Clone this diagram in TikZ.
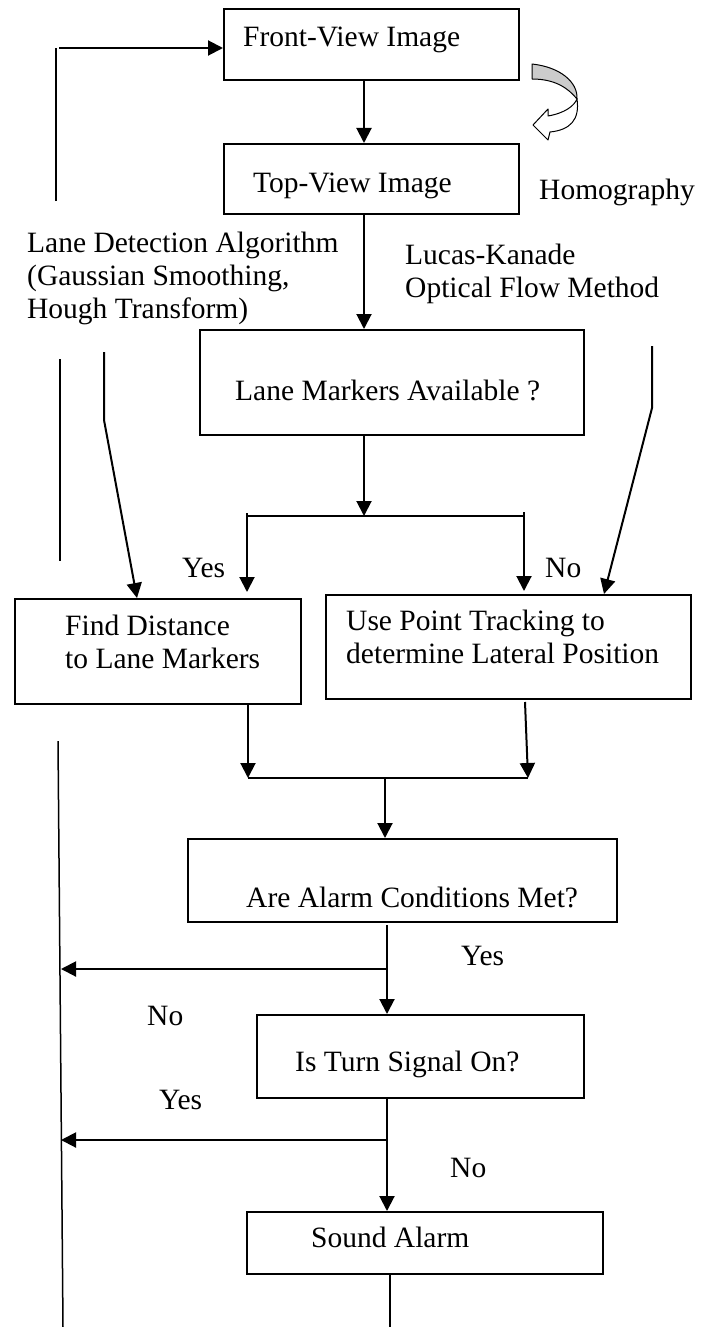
\documentclass[tikz,border=0pt]{standalone}
\usepackage{fontspec}
\setmainfont{Liberation Serif}
\usetikzlibrary{arrows.meta}
\begin{document}
\begin{tikzpicture}[x=1pt,y=-1pt,
  box/.style={draw, line width=2pt, rectangle, inner sep=0pt, anchor=north west},
  lbl/.style={inner sep=0pt, anchor=base west, align=left, font=\fontsize{29.5}{33}\selectfont},
  arr/.style={line width=2pt, -{Triangle[length=15pt,width=15pt]}},
  conn/.style={line width=2pt},
  plain/.style={line width=1.5pt},
  homo/.style={line width=1pt, line join=round}]
\useasboundingbox (0,0) rectangle (706,1327);
% boxes
\node[box, minimum width=295pt, minimum height=71pt] (front) at (223,8) {};
\node[box, minimum width=295pt, minimum height=70pt] (top) at (223,143) {};
\node[box, minimum width=384pt, minimum height=105pt] (lane) at (199,329) {};
\node[box, minimum width=286pt, minimum height=105pt] (find) at (14,598) {};
\node[box, minimum width=365pt, minimum height=104pt] (track) at (325,594) {};
\node[box, minimum width=429pt, minimum height=83pt] (alarm) at (187,838) {};
\node[box, minimum width=327pt, minimum height=83pt] (turn) at (256,1014) {};
\node[box, minimum width=356pt, minimum height=62pt] (sound) at (246,1211) {};
% texts (multi-line nodes are anchored at the baseline of their last line)
\node[lbl] (tfront) at (243,47) {Front-View Image};
\node[lbl] (ttop) at (253,192) {Top-View Image};
\node[lbl] (thomo) at (539,199) {Homography};
\node[lbl] (tld) at (27,318) {Lane Detection Algorithm\\(Gaussian Smoothing,\\Hough Transform)};
\node[lbl] (tlk) at (405,297) {Lucas-Kanade\\Optical Flow Method};
\node[lbl] (tlane) at (235,400) {Lane Markers Available ?};
\node[lbl] (tyes1) at (182,577) {Yes};
\node[lbl] (tno1) at (545,577) {No};
\node[lbl] (tfind) at (65,668) {Find Distance\\to Lane Markers};
\node[lbl] (ttrack) at (346,663) {Use Point Tracking to\\determine Lateral Position};
\node[lbl] (talarm) at (246,907) {Are Alarm Conditions Met?};
\node[lbl] (tyes2) at (461,965) {Yes};
\node[lbl] (tno2) at (147,1025) {No};
\node[lbl] (tturn) at (295,1071) {Is Turn Signal On?};
\node[lbl] (tyes3) at (159,1109) {Yes};
\node[lbl] (tno3) at (450,1177) {No};
\node[lbl] (tsound) at (311,1247) {Sound Alarm};
% coordinates
\coordinate (xa) at (364,0);
\coordinate (fbTop) at (56,48);
\coordinate (fbBot) at (56,201);
\coordinate (fbStart) at (59,48);
\coordinate (ldA) at (104,352);
\coordinate (ldB) at (104,420);
\coordinate (ldC) at (137,598);
\coordinate (lkA) at (652,346);
\coordinate (lkB) at (652,408);
\coordinate (lkC) at (604,594);
\coordinate (l2a) at (60,359);
\coordinate (l2b) at (60,561);
\coordinate (br) at (364,516);
\coordinate (bl) at (247,516);
\coordinate (brr) at (524,516);
\coordinate (blTick) at (247,513);
\coordinate (brrTick) at (524,512);
\coordinate (yesEnd) at (247,592);
\coordinate (noEnd) at (524,591);
\coordinate (mL) at (248,778);
\coordinate (mR) at (528,778);
\coordinate (mS) at (525,702);
\coordinate (mC) at (385,778);
\coordinate (aS) at (387,925);
\coordinate (aB) at (387,969);
\coordinate (aL) at (61,969);
\coordinate (tB) at (387,1140);
\coordinate (tL) at (61,1140);
\coordinate (xt) at (387,0);
\coordinate (xs) at (390,0);
\coordinate (sEnd) at (390,1327);
\coordinate (llTop) at (58,741);
\coordinate (llBot) at (63,1327);
% connectors
\draw[plain] (fbBot) -- (fbTop);
\draw[arr] (fbStart) -- (fbStart -| front.west);
\draw[arr] (front.south -| xa) -- (top.north -| xa);
\draw[arr] (top.south -| xa) -- (lane.north -| xa);
\draw[arr] (lane.south -| xa) -- (br);
\draw[conn] (bl) -- (brr);
\draw[arr] (blTick) -- (yesEnd);
\draw[arr] (brrTick) -- (noEnd);
\draw[arr] (ldA) -- (ldB) -- (ldC);
\draw[arr] (lkA) -- (lkB) -- (lkC);
\draw[plain] (l2a) -- (l2b);
\draw[arr] (find.south -| mL) -- (mL);
\draw[arr] (mS) -- (mR);
\draw[conn] (mL) -- (mR);
\draw[arr] (mC) -- (alarm.north -| mC);
\draw[arr] (aS) -- (turn.north -| xt);
\draw[arr] (aB) -- (aL);
\draw[arr] (turn.south -| xt) -- (sound.north -| xt);
\draw[arr] (tB) -- (tL);
\draw[conn] (sound.south -| xs) -- (sEnd);
\draw[plain] (llTop) -- (llBot);
% homography curved arrow
\draw[homo, fill=black!20] (532,64) .. controls (560,67) and (578,82) .. (577,99)
  .. controls (568,88) and (555,79) .. (532,79) -- cycle;
\draw[homo, fill=white] (577,99) .. controls (580,120) and (570,130) .. (550,132)
  -- (548,140) -- (533,125) -- (548,109) -- (548,116)
  .. controls (565,113) and (574,106) .. (577,99) -- cycle;
\end{tikzpicture}
\end{document}
